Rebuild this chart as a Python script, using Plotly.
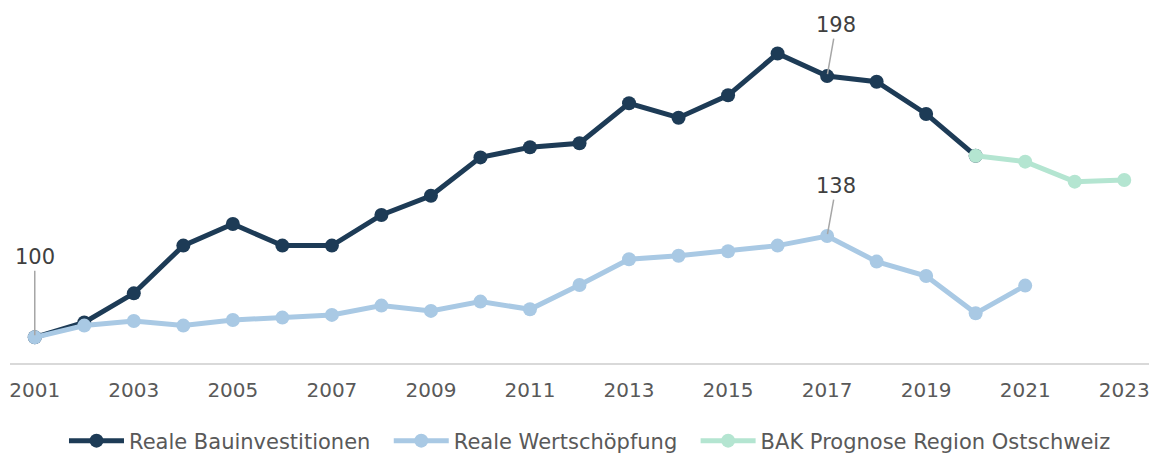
import plotly.graph_objects as go

years = list(range(2001, 2021))
bauinvest = [100, 105.6, 116.5, 134.4, 142.5, 134.4, 134.4, 145.9, 153.1, 167.5,
             171.3, 172.8, 187.8, 182.4, 190.8, 206.5, 198.0, 195.9, 183.8, 168.1]
years_ws = list(range(2001, 2022))
wertschoepfung = [100, 104.4, 106.1, 104.4, 106.5, 107.4, 108.4, 111.9, 109.9, 113.4,
                  110.5, 119.6, 129.3, 130.6, 132.3, 134.4, 138.0, 128.4, 123.0, 109.0, 119.4]
years_prog = [2020, 2021, 2022, 2023]
prognose = [168.1, 165.9, 158.4, 159.0]

names = ["Reale Bauinvestitionen", "Reale Wertschöpfung", "BAK Prognose Region Ostschweiz"]
pad = "\u00a0\u00a0"

c_dark = "#1d3b56"
c_light = "#a9c9e4"
c_green = "#b4e5d1"
font = "DejaVu Sans"

fig = go.Figure()
fig.add_trace(go.Scatter(x=years, y=bauinvest, mode="lines+markers",
                         name=names[0] + pad,
                         line=dict(color=c_dark, width=5),
                         marker=dict(color=c_dark, size=14)))
fig.add_trace(go.Scatter(x=years_ws, y=wertschoepfung, mode="lines+markers",
                         name=names[1] + pad,
                         line=dict(color=c_light, width=5),
                         marker=dict(color=c_light, size=14)))
fig.add_trace(go.Scatter(x=years_prog, y=prognose, mode="lines+markers",
                         name=names[2],
                         line=dict(color=c_green, width=5),
                         marker=dict(color=c_green, size=14)))

ann_font = dict(family=font, size=21, color="#404040")
for x, y, ax, ay in [(2001, bauinvest[0], 0, -80), (2017, 198.0, 9, -51), (2017, 138.0, 9, -50)]:
    fig.add_annotation(x=x, y=y, text=f"{y:.0f}", showarrow=True, arrowhead=0,
                       arrowwidth=1.5, arrowcolor="#a6a6a6", ax=ax, ay=ay,
                       standoff=2, font=ann_font)

fig.update_layout(
    width=1151, height=453,
    margin=dict(l=10, r=2, t=10, b=90, autoexpand=False),
    plot_bgcolor="white", paper_bgcolor="white",
    showlegend=True,
    legend=dict(orientation="h", x=0.0474, xanchor="left", y=-0.221, yanchor="middle",
                font=dict(family=font, size=21, color="#595959"), itemwidth=55),
    xaxis=dict(range=[2000.5, 2023.5], tick0=2001, dtick=2, showgrid=False,
               zeroline=False, showline=True, linecolor="#d9d9d9", linewidth=2,
               ticks="outside", ticklen=8, tickcolor="rgba(0,0,0,0)", automargin=False,
               tickfont=dict(family=font, size=20, color="#595959")),
    yaxis=dict(range=[90.36, 222.8], visible=False, showgrid=False, zeroline=False,
               automargin=False),
)

fig.write_html("out.html", config={"displayModeBar": False},
               post_script="document.body.style.margin='0px';")
